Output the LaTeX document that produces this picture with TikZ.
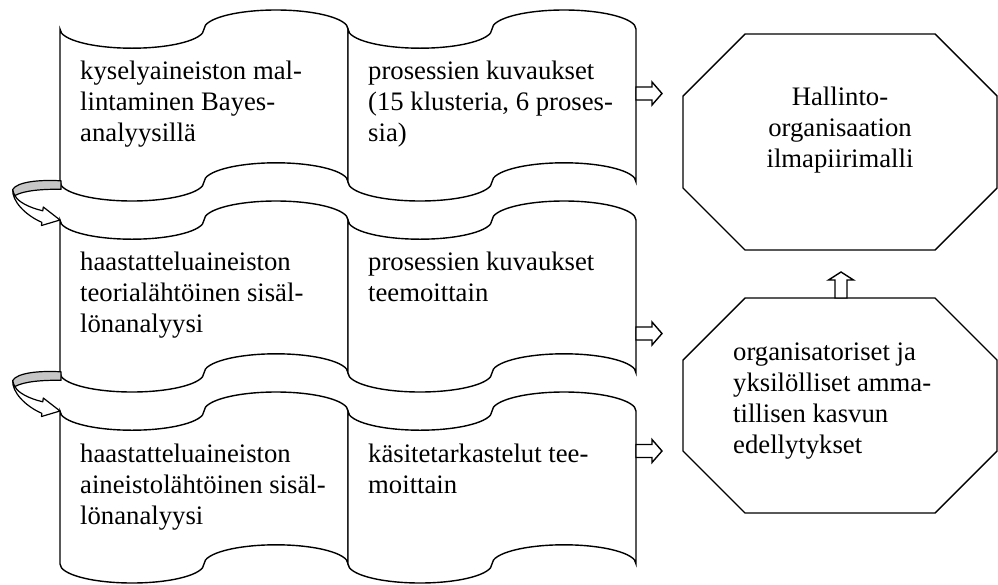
\documentclass[tikz,border=0pt]{standalone}
\usepackage{fontspec}
\setmainfont{Liberation Serif}
\usetikzlibrary{calc}

% punched-tape outline: left x, top y, width, height
\newcommand\tapeshape[4]{%
  \pgfmathsetmacro\tpA{#4/10}%
  \pgfmathsetmacro\tpQ{#3/4}%
  \draw[tape] (#1,#2+\tpA)
    arc[start angle=180,end angle=0,x radius=\tpQ,y radius=\tpA]
    arc[start angle=180,end angle=360,x radius=\tpQ,y radius=\tpA]
    -- (#1+#3,#2+#4-\tpA)
    arc[start angle=0,end angle=-180,x radius=\tpQ,y radius=\tpA]
    arc[start angle=0,end angle=180,x radius=\tpQ,y radius=\tpA]
    -- cycle;}

% octagon: left x, top y, width, height, corner cut
\newcommand\octshape[5]{%
  \draw[oct] (#1+#5,#2) -- (#1+#3-#5,#2) -- (#1+#3,#2+#5) -- (#1+#3,#2+#4-#5)
    -- (#1+#3-#5,#2+#4) -- (#1+#5,#2+#4) -- (#1,#2+#4-#5) -- (#1,#2+#5) -- cycle;}

\tikzset{
  lw/.style={line width=1.4pt, line join=miter},
  tape/.style={lw, draw=black, fill=white},
  oct/.style={lw, draw=black, fill=white},
  blk/.style={lw, draw=black, fill=white},
  frontface/.style={line width=1.2pt, draw=black, fill=white, line join=round},
  backface/.style={line width=1.2pt, draw=black, fill=gray!45, line join=round},
  txt/.style={anchor=base west, inner sep=0pt, font=\fontsize{26.7}{31}\selectfont},
  txtc/.style={anchor=base, inner sep=0pt, font=\fontsize{26.7}{31}\selectfont},
  % pics are given in downward-y coordinates
  down/.style={yscale=-1},
  rarrow/.pic={\draw[blk] (0,-6.5) -- (16,-6.5) -- (16,-11.5) -- (26,0)
      -- (16,11.5) -- (16,6.5) -- (0,6.5) -- cycle;},
  uarrow/.pic={\draw[blk] (-6,0) -- (-6,-18) -- (-12.5,-18) -- (0,-26)
      -- (12.5,-18) -- (6,-18) -- (6,0) -- cycle;},
  loopback/.pic={
    \draw[frontface] (-47.3,7.5) .. controls (-48,19) and (-35,33) .. (-18.2,40.3)
      -- (-18.5,43.5) -- (0,38) -- (-16.7,25) -- (-17.2,28.8)
      .. controls (-31,25.5) and (-42,20) .. (-45,13.5)
      .. controls (-46.5,11.5) and (-47.2,9.5) .. (-47.3,7.5) -- cycle;
    \draw[backface] (1,-1.2) .. controls (-22,-2.5) and (-43,0) .. (-47.3,7.5)
      .. controls (-47,10) and (-46,12) .. (-45,13.5)
      .. controls (-36,8.5) and (-18,7) .. (1,7.3) -- cycle;}
}

\begin{document}
\begin{tikzpicture}[x=1pt, y=1pt, yscale=-1]
  \useasboundingbox (0,0) rectangle (998,584);

  % three rows of paired tapes
  \tapeshape{60}{10}{288}{191}
  \tapeshape{348}{10}{288}{191}
  \tapeshape{60}{201}{288}{191}
  \tapeshape{348}{201}{288}{191}
  \tapeshape{60}{392}{288}{191}
  \tapeshape{348}{392}{288}{191}

  % result octagons
  \octshape{683}{34}{314}{216}{62}
  \octshape{683}{298}{314}{215}{62}

  % row texts
  \node[txt] (r1l) at (80,79) {\parbox[t]{300pt}{\raggedright kyselyaineiston mal-\\lintaminen Bayes-\\analyysillä}};
  \node[txt] (r1r) at (368,79) {\parbox[t]{300pt}{\raggedright prosessien kuvaukset\\(15 klusteria, 6 proses-\\sia)}};
  \node[txt] (r2l) at (80,270) {\parbox[t]{300pt}{\raggedright haastatteluaineiston\\teorialähtöinen sisäl-\\lönanalyysi}};
  \node[txt] (r2r) at (368,270) {\parbox[t]{300pt}{\raggedright prosessien kuvaukset\\teemoittain}};
  \node[txt] (r3l) at (80,462) {\parbox[t]{300pt}{\raggedright haastatteluaineiston\\aineistolähtöinen sisäl-\\lönanalyysi}};
  \node[txt] (r3r) at (368,462) {\parbox[t]{300pt}{\raggedright käsitetarkastelut tee-\\moittain}};

  % octagon texts
  \node[txtc] (goal) at (840,105) {\parbox[t]{300pt}{\centering Hallinto-\\organisaation\\ilmapiirimalli}};
  \node[txt] (cond) at (733,360) {\parbox[t]{300pt}{\raggedright organisatoriset ja\\yksilölliset amma-\\tillisen kasvun\\edellytykset}};

  % arrow anchor points
  \coordinate (out1) at (636,93.5);
  \coordinate (out2) at (636,333.5);
  \coordinate (out3) at (636,451);
  \coordinate (up) at (841,298);
  \coordinate (turn1) at (60,182);
  \coordinate (turn2) at (60,373);

  % block arrows
  \pic[down] at (out1) {rarrow};
  \pic[down] at (out2) {rarrow};
  \pic[down] at (out3) {rarrow};
  \pic[down] at (up) {uarrow};

  % curved arrows leading to the next row
  \pic[down] at (turn1) {loopback};
  \pic[down] at (turn2) {loopback};
\end{tikzpicture}
\end{document}
